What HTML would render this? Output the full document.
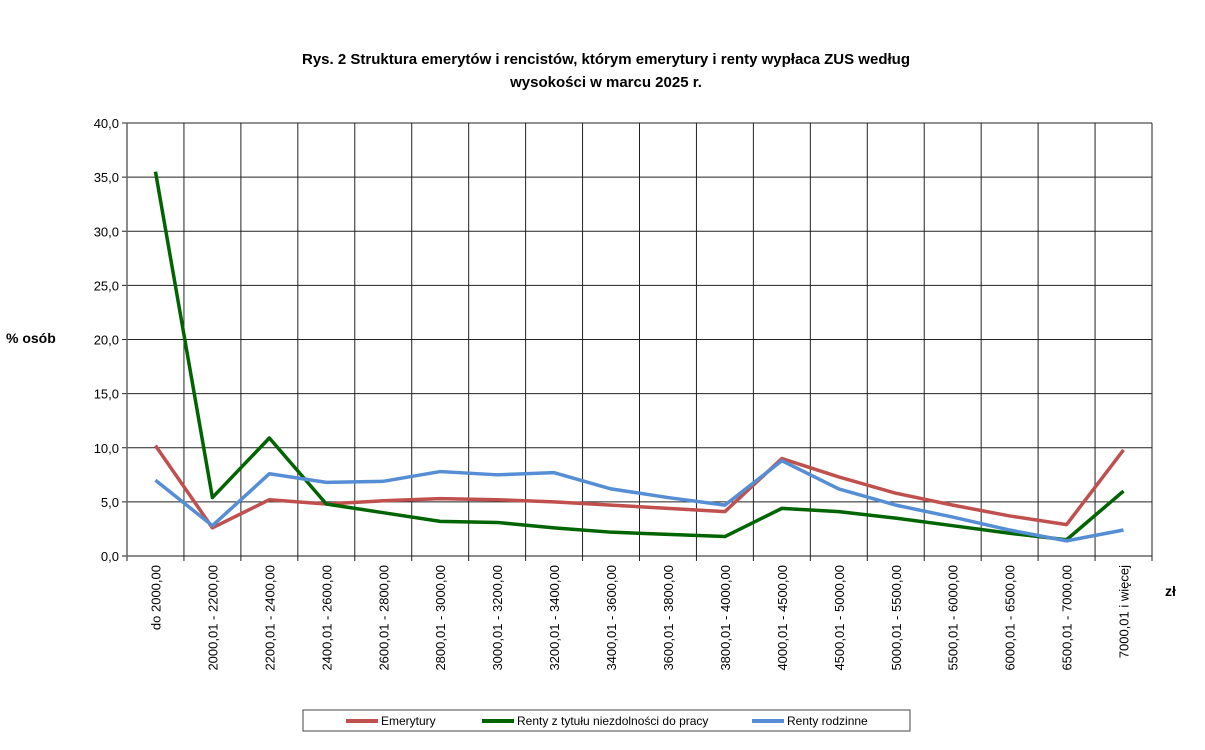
<!DOCTYPE html>
<html><head><meta charset="utf-8"><style>
body{margin:0;background:#fff;width:1205px;height:745px;overflow:hidden}
text{font-family:"Liberation Sans",Calibri,sans-serif}
</style></head><body>
<svg id="chart" width="1205" height="745" xmlns="http://www.w3.org/2000/svg">
<text x="606" y="64" text-anchor="middle" font-size="15" font-weight="bold">Rys. 2 Struktura emerytów i rencistów, którym emerytury i renty wypłaca ZUS według</text>
<text x="606" y="87" text-anchor="middle" font-size="15" font-weight="bold">wysokości w marcu 2025 r.</text>
<text x="6" y="343" font-size="14" font-weight="bold">% osób</text>
<text x="1165" y="596" font-size="14" font-weight="bold">zł</text>
<g id="grid"></g><g id="series"></g>
<g>
<rect x="303" y="710" width="607" height="21" fill="#fff" stroke="#444"/>
<line x1="346" y1="721" x2="378" y2="721" stroke="#c0504d" stroke-width="4"/>
<text x="381" y="725" font-size="12">Emerytury</text>
<line x1="482" y1="721" x2="514" y2="721" stroke="#006400" stroke-width="4"/>
<text x="517" y="725" font-size="12">Renty z tytułu niezdolności do pracy</text>
<line x1="752" y1="721" x2="784" y2="721" stroke="#558ed5" stroke-width="4"/>
<text x="787" y="725" font-size="12">Renty rodzinne</text>
</g>
</svg>
<script>
const categories=["do 2000,00","2000,01 - 2200,00","2200,01 - 2400,00","2400,01 - 2600,00","2600,01 - 2800,00","2800,01 - 3000,00","3000,01 - 3200,00","3200,01 - 3400,00","3400,01 - 3600,00","3600,01 - 3800,00","3800,01 - 4000,00","4000,01 - 4500,00","4500,01 - 5000,00","5000,01  - 5500,00","5500,01  - 6000,00","6000,01  - 6500,00","6500,01  - 7000,00","7000,01 i więcej"];
const emerytury=[10.2,2.6,5.2,4.8,5.1,5.3,5.2,5.0,4.7,4.4,4.1,9.0,7.3,5.8,4.7,3.7,2.9,9.8];
const rentyNiezdolnosc=[35.5,5.4,10.9,4.8,4.0,3.2,3.1,2.6,2.2,2.0,1.8,4.4,4.1,3.5,2.8,2.1,1.5,6.0];
const rentyRodzinne=[7.0,2.8,7.6,6.8,6.9,7.8,7.5,7.7,6.2,5.4,4.7,8.8,6.2,4.7,3.6,2.4,1.4,2.4];
const yTicks=["0,0","5,0","10,0","15,0","20,0","25,0","30,0","35,0","40,0"];
const L=127,R=1152,T=123,B=556,ymax=40;
const cw=(R-L)/categories.length;
const xs=i=>L+cw*(i+0.5), ys=v=>B-(v/ymax)*(B-T);
const NS="http://www.w3.org/2000/svg";
function mk(t,a,p){const e=document.createElementNS(NS,t);for(const k in a)e.setAttribute(k,a[k]);p.appendChild(e);return e;}
const g=document.getElementById('grid'), s=document.getElementById('series');
yTicks.forEach((t,i)=>{const y=ys(i*5);
 const ln=mk('line',{x1:L-5,x2:R,y1:y,y2:y,stroke:i===0?'#666':'#222','stroke-width':i===0?1.5:1},g);
 
 
 const tx=mk('text',{x:L-8,y:y+5,'text-anchor':'end','font-size':13},g);tx.textContent=t;
 
 
});
for(let i=0;i<=categories.length;i++){const x=L+cw*i;
 const ln=mk('line',{x1:x,x2:x,y1:T,y2:B+5,stroke:i===0?'#666':'#222','stroke-width':i===0?1.5:1},g);
 
 
}
categories.forEach((c,i)=>{const x=xs(i)+5,y=565;
 const tx=mk('text',{x:x,y:y,'text-anchor':'end','font-size':13,transform:`rotate(-90 ${x} ${y})`},g);tx.textContent=c;
 
 
});
[[emerytury,'#c0504d','emerytury-line'],[rentyNiezdolnosc,'#006400','renty-niezdolnosc-line'],[rentyRodzinne,'#558ed5','renty-rodzinne-line']].forEach(([d,c,n])=>{
 const p=mk('polyline',{points:d.map((v,i)=>xs(i)+','+ys(v)).join(' '),fill:'none',stroke:c,'stroke-width':3.5,'stroke-linejoin':'round'},s);
 
 
});
</script>
</body></html>
